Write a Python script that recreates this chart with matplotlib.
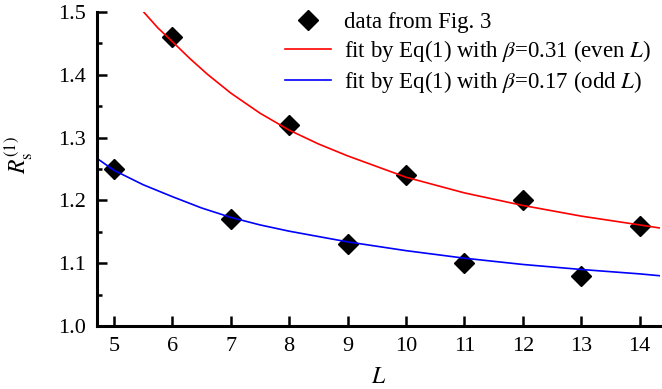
import matplotlib
matplotlib.use("Agg")
import matplotlib.pyplot as plt
from matplotlib.ticker import MultipleLocator

# data points
L_data = [5, 6, 7, 8, 9, 10, 11, 12, 13, 14]
R_data = [1.25, 1.46, 1.17, 1.32, 1.13, 1.24, 1.10, 1.20, 1.08, 1.16]

# fit curves, values
L_even_fit = [5.51, 5.75, 6.0, 6.3, 6.6, 7.0, 7.5, 8.0, 8.5, 9.0, 10.0, 11.0, 12.0, 13.0, 14.0, 14.35]
R_even_fit = [1.500, 1.475, 1.453, 1.426, 1.401, 1.371, 1.339, 1.312, 1.290, 1.271, 1.237, 1.212, 1.192, 1.175, 1.161, 1.156]

L_odd_fit = [4.71, 5.0, 5.5, 6.0, 6.5, 7.0, 7.5, 8.0, 9.0, 10.0, 11.0, 12.0, 13.0, 14.0, 14.35]
R_odd_fit = [1.267, 1.248, 1.225, 1.206, 1.188, 1.173, 1.161, 1.151, 1.134, 1.120, 1.108, 1.098, 1.090, 1.083, 1.080]

x_ticks = [5, 6, 7, 8, 9, 10, 11, 12, 13, 14]
y_ticks = [1.0, 1.1, 1.2, 1.3, 1.4, 1.5]

plt.rcParams["font.family"] = ["Liberation Serif", "DejaVu Serif"]
plt.rcParams["mathtext.fontset"] = "stix"

fig = plt.figure(figsize=(6.62, 3.89), dpi=100)
ax = fig.add_axes([0.1465, 0.162, 0.8505, 0.807])

ax.plot(L_data, R_data, "D", color="black", markersize=10, linestyle="none", label="data from Fig. 3")
ax.plot(L_even_fit, R_even_fit, color="#ff0000", lw=1.2,
        label=r"fit by Eq(1) with $\beta$=0.31 (even $L$)")
ax.plot(L_odd_fit, R_odd_fit, color="#0000ff", lw=1.2,
        label=r"fit by Eq(1) with $\beta$=0.17 (odd $L$)")

ax.set_xlim(4.71, 14.35)
ax.set_ylim(1.0, 1.5)
ax.set_xticks(x_ticks)
ax.set_yticks(y_ticks)
ax.set_yticklabels([f"{v:.1f}" for v in y_ticks])
ax.yaxis.set_minor_locator(MultipleLocator(0.05))

for side in ["top", "right"]:
    ax.spines[side].set_visible(False)
for side in ["left", "bottom"]:
    ax.spines[side].set_linewidth(2.2)

ax.tick_params(which="major", direction="in", length=7, width=1.8, labelsize=16, pad=8)
ax.tick_params(which="minor", direction="in", length=3.5, width=1.8)

ax.set_xlabel(r"$L$", fontsize=17, labelpad=8)
ax.set_ylabel(r"$R_{\rm s}^{(1)}$", fontsize=17, rotation=90)
ax.yaxis.set_label_coords(-0.110, 0.545)

leg = ax.legend(loc="upper right", frameon=False, fontsize=16.5, handlelength=2.0,
                handletextpad=0.55, labelspacing=0.22, borderaxespad=0.0,
                bbox_to_anchor=(1.0, 1.03))

fig.savefig("out.png", dpi=100)
